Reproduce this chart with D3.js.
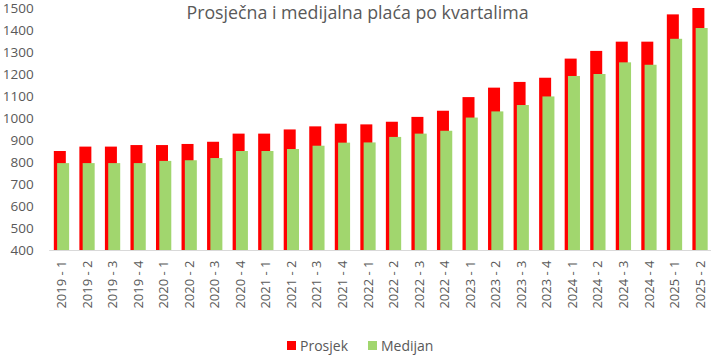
<!DOCTYPE html>
<html><head><meta charset="utf-8">
<script src="https://cdn.jsdelivr.net/npm/d3@7"></script>
<style>body{margin:0;background:#fff}svg{display:block}</style>
</head><body>
<svg id="c" width="711" height="358"></svg>
<script>
const categories = ["2019 - 1","2019 - 2","2019 - 3","2019 - 4","2020 - 1","2020 - 2","2020 - 3","2020 - 4","2021 - 1","2021 - 2","2021 - 3","2021 - 4","2022 - 1","2022 - 2","2022 - 3","2022 - 4","2023 - 1","2023 - 2","2023 - 3","2023 - 4","2024 - 1","2024 - 2","2024 - 3","2024 - 4","2025 - 1","2025 - 2"];
const prosjek = [850,870,870,877,877,882,892,929,929,948,962,974,971,983,1005,1033,1095,1138,1164,1183,1270,1305,1347,1347,1471,1500];
const medijan = [795,795,795,795,805,808,818,850,850,859,874,888,889,914,929,942,1002,1030,1059,1098,1191,1200,1253,1242,1360,1409];
const yTicks = [400,500,600,700,800,900,1000,1100,1200,1300,1400,1500];
const seriesNames = ["Prosjek","Medijan"];
const colors = ["#ff0000","#a1d66e"];

const svg = d3.select("#c");
const font = "'Open Sans', sans-serif";
const grey = "#595959";
const mLeft = 48.7, mRight = 712.8, mTop = 8, mBottom = 250;

const x = d3.scaleBand().domain(categories).range([mLeft, mRight]).paddingInner(0).paddingOuter(0);
const y = d3.scaleLinear().domain([400, 1500]).range([mBottom, mTop]);

// bars
const bw = 12, off = 3.3;
const g = svg.append("g");
g.selectAll("rect.p").data(categories).join("rect").attr("class","p")
  .attr("x", d => x(d) + x.bandwidth()/2 - (bw+off)/2)
  .attr("width", bw)
  .attr("y", (d,i) => y(prosjek[i]))
  .attr("height", (d,i) => y(400) - y(prosjek[i]))
  .attr("fill", colors[0]);
g.selectAll("rect.m").data(categories).join("rect").attr("class","m")
  .attr("x", d => x(d) + x.bandwidth()/2 - (bw+off)/2 + off)
  .attr("width", bw)
  .attr("y", (d,i) => y(medijan[i]))
  .attr("height", (d,i) => y(400) - y(medijan[i]))
  .attr("fill", colors[1]);

// x axis
const xa = svg.append("g").attr("transform", `translate(0,${mBottom})`)
  .call(d3.axisBottom(x).tickSize(0).tickPadding(0));
xa.select(".domain").attr("stroke", "#d9d9d9").attr("stroke-width", 1);
xa.selectAll("text")
  .attr("transform", "rotate(-90)")
  .attr("text-anchor", "end")
  .attr("x", -10.5)
  .attr("y", 0)
  .attr("dy", "0.35em")
  .attr("fill", grey)
  .style("font-family", font)
  .style("font-size", "13px");

// y axis
const ya = svg.append("g").attr("transform", `translate(${mLeft},0)`)
  .call(d3.axisLeft(y).tickValues(yTicks).tickFormat(d3.format("d")).tickSize(0).tickPadding(15));
ya.select(".domain").remove();
ya.selectAll("text").attr("fill", grey)
  .style("font-family", font).style("font-size", "13.5px");

// title
svg.append("text").attr("x", 357.5).attr("y", 19)
  .attr("text-anchor","middle").attr("fill", grey)
  .style("font-family", font).style("font-size","17.8px")
  .text("Prosječna i medijalna plaća po kvartalima");

// legend
const lg = svg.append("g");
const lx = [287, 368];
seriesNames.forEach((n,i) => {
  lg.append("rect").attr("x", lx[i]).attr("y", 341).attr("width", 9).attr("height", 9).attr("fill", colors[i]);
  lg.append("text").attr("x", lx[i] + 13).attr("y", 350.5).attr("fill", grey)
    .style("font-family", font).style("font-size","14px").text(n);
});
</script>
</body></html>
